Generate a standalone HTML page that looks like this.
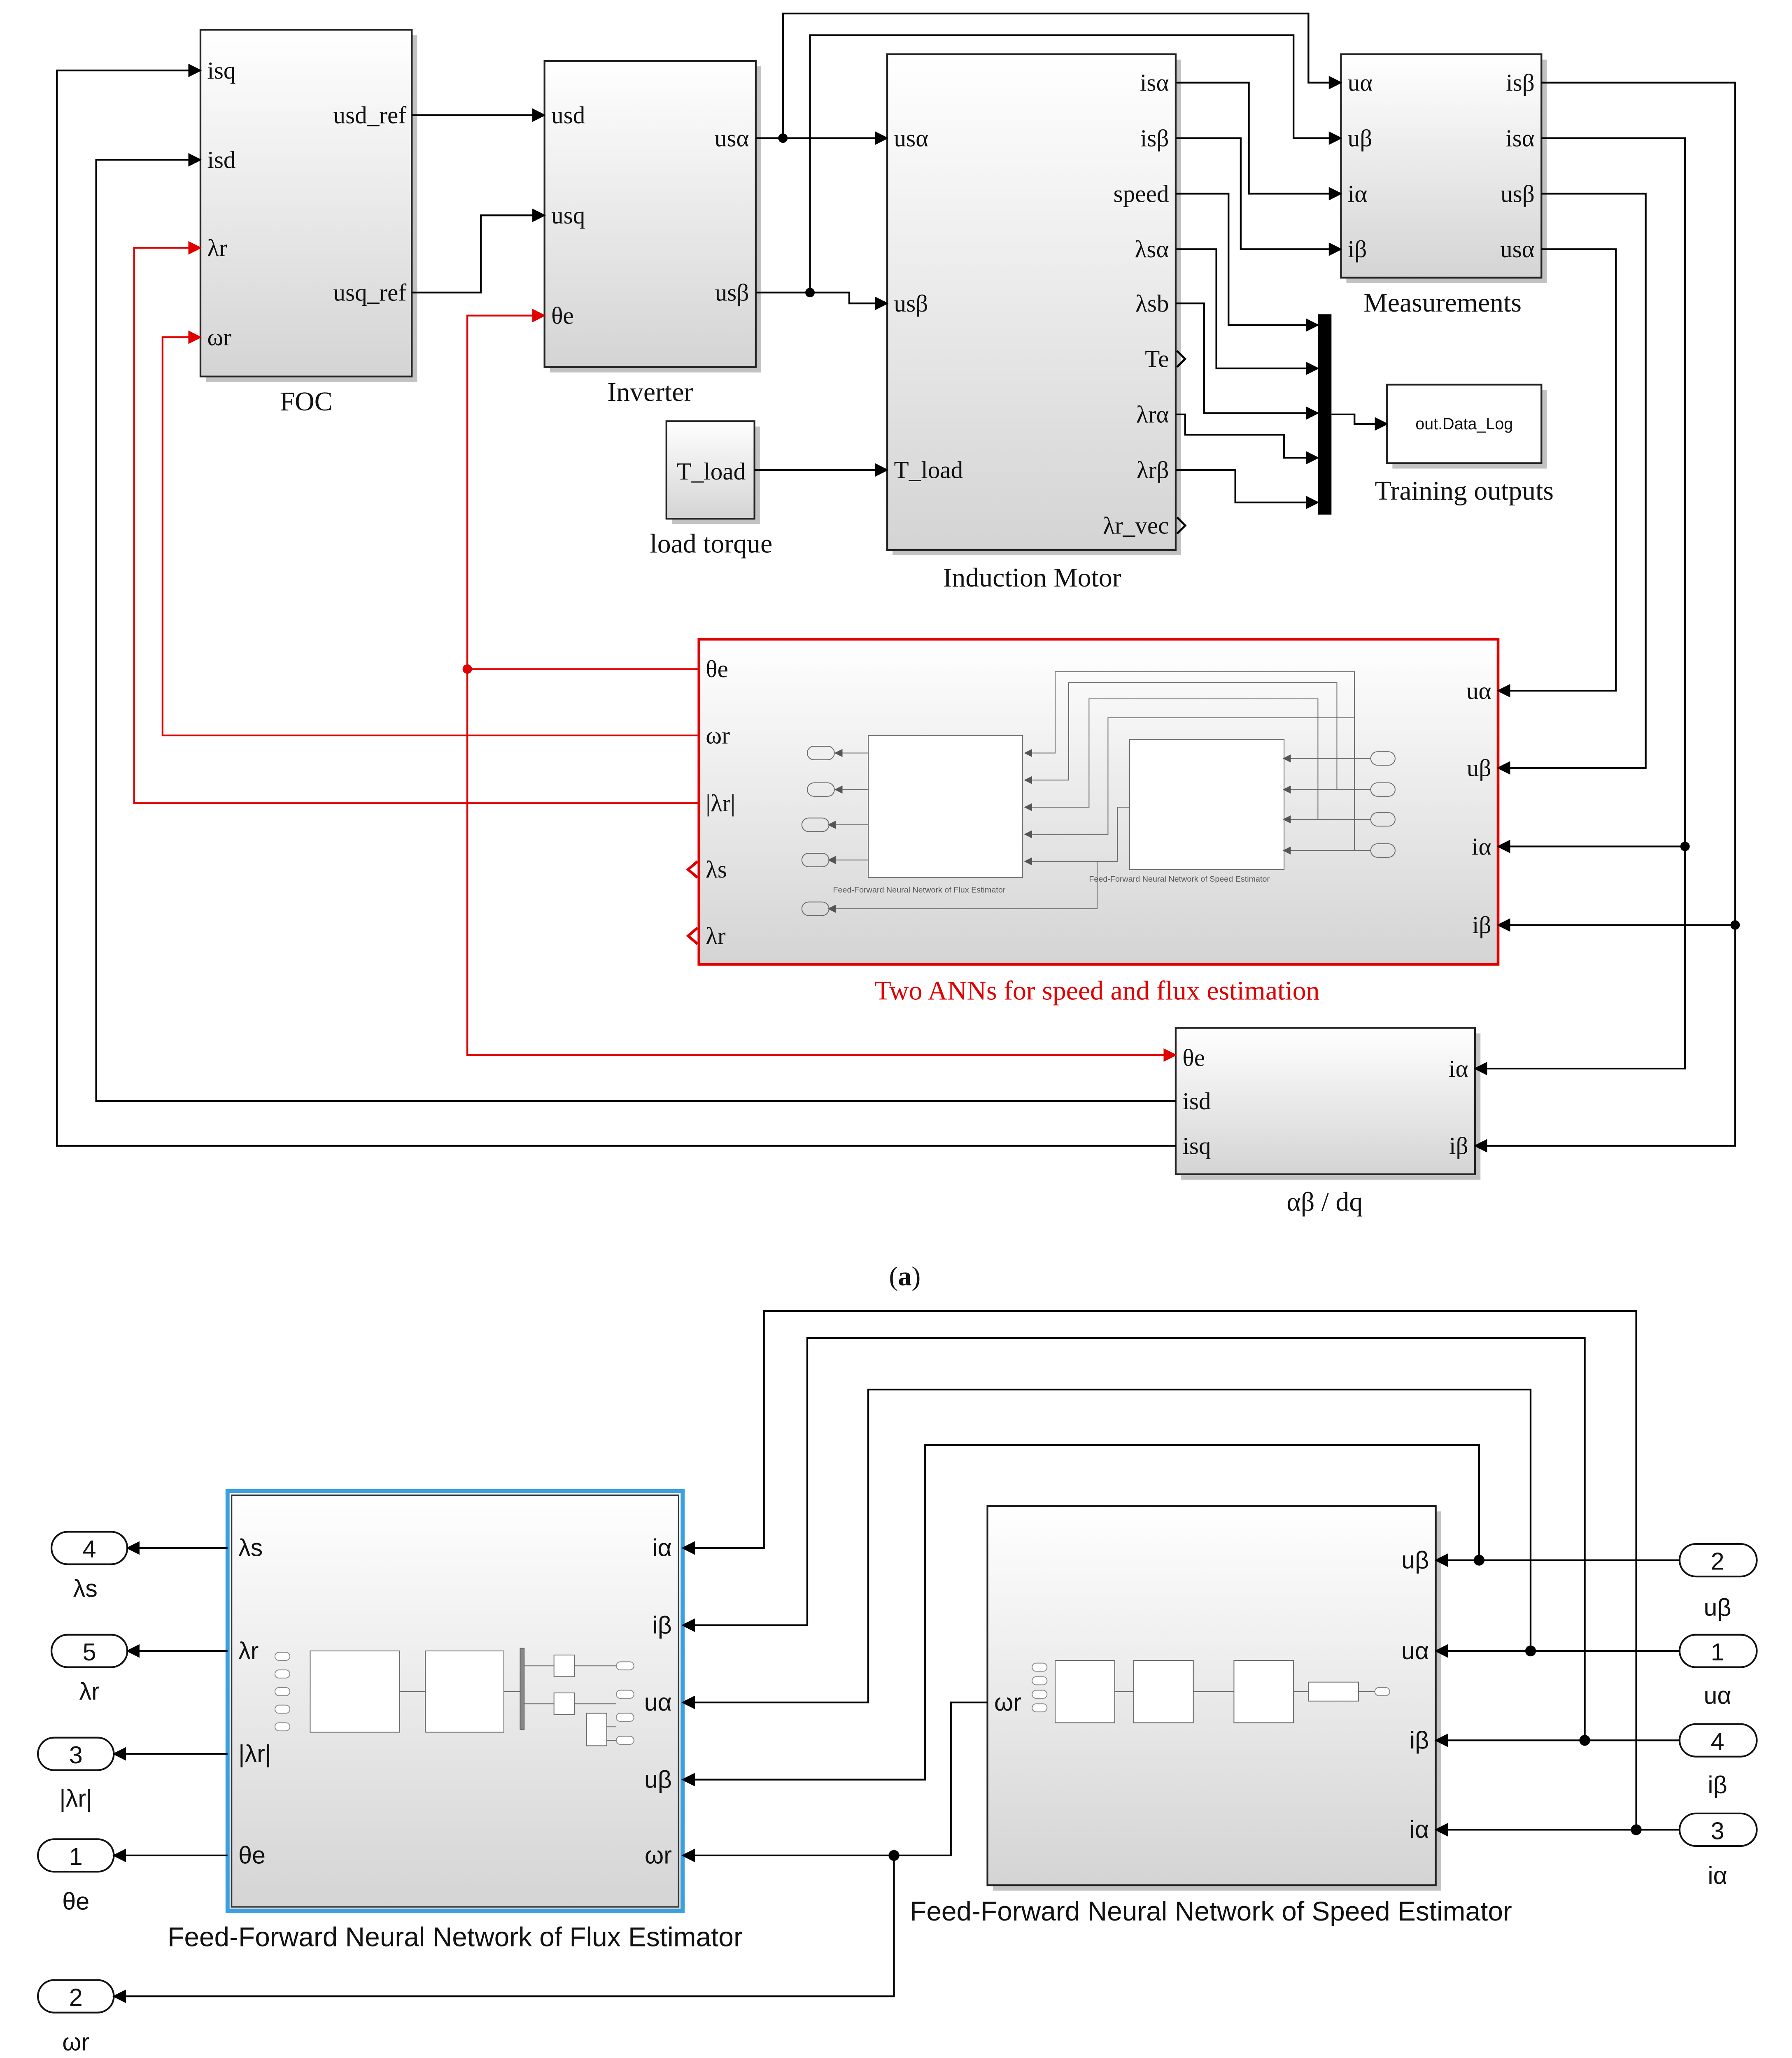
<!DOCTYPE html>
<html><head><meta charset="utf-8"><style>
html,body{margin:0;padding:0;background:#fff;width:4353px;height:5166px;overflow:hidden;}
svg{display:block;position:absolute;left:0;top:0}
.s{font-family:"Liberation Serif",serif;font-size:18px;fill:#111}
.a{font-family:"Liberation Sans",sans-serif;font-size:18px;fill:#111}
.w{fill:none;stroke:#000;stroke-width:1.3}
.r{fill:none;stroke:#e00000;stroke-width:1.3}
.t{fill:none;stroke:#666;stroke-width:0.6}
</style></head><body>
<svg width="4353" height="5166" viewBox="0 0 1323 1570" preserveAspectRatio="none" xmlns="http://www.w3.org/2000/svg">
<defs>
<linearGradient id="g" x1="0" y1="0" x2="0" y2="1"><stop offset="0" stop-color="#ffffff"/><stop offset="1" stop-color="#d4d4d4"/></linearGradient>
<marker id="ar" markerWidth="10" markerHeight="10" refX="9" refY="5" orient="auto" markerUnits="userSpaceOnUse"><path d="M0,0 L10,5 L0,10 z" fill="#000"/></marker>
<marker id="arr" markerWidth="10" markerHeight="10" refX="9" refY="5" orient="auto" markerUnits="userSpaceOnUse"><path d="M0,0 L10,5 L0,10 z" fill="#e00000"/></marker>
<marker id="as" markerWidth="6" markerHeight="6" refX="5" refY="3" orient="auto" markerUnits="userSpaceOnUse"><path d="M0,0 L6,3 L0,6 z" fill="#555"/></marker>
</defs>
<rect width="1323" height="1570" fill="#fff"/>

<g fill="#999" opacity="0.6">
<rect x="152" y="26" width="156" height="256"/><rect x="406" y="49" width="156" height="226"/>
<rect x="659" y="44" width="213" height="366"/><rect x="496" y="315" width="65" height="72"/>
<rect x="994" y="44" width="148" height="165"/><rect x="1028" y="288" width="114" height="58"/>
<rect x="872" y="763" width="221" height="108"/><rect x="733" y="1116" width="331" height="280"/>
</g>
<g stroke="#222" stroke-width="1.3" fill="url(#g)">
<rect x="148" y="22" width="156" height="256"/>
<rect x="402" y="45" width="156" height="226"/>
<rect x="655" y="40" width="213" height="366"/>
<rect x="492" y="311" width="65" height="72"/>
<rect x="990" y="40" width="148" height="165"/>
<rect x="1024" y="284" width="114" height="58" fill="#fff"/>
<rect x="868" y="759" width="221" height="108"/>
</g>
<rect x="516" y="472" width="590" height="240" fill="url(#g)" stroke="#e00000" stroke-width="2"/>
<rect x="973" y="232" width="10" height="148" fill="#000"/>

<g class="s">
<text x="153" y="58">isq</text><text x="153" y="124">isd</text><text x="153" y="189">λr</text><text x="153" y="255">ωr</text>
<text x="300" y="91" text-anchor="end">usd_ref</text><text x="300" y="222" text-anchor="end">usq_ref</text>
<text x="226" y="303" text-anchor="middle" font-size="20">FOC</text>
<text x="407" y="91">usd</text><text x="407" y="165">usq</text><text x="407" y="239">θe</text>
<text x="553" y="108" text-anchor="end">usα</text><text x="553" y="222" text-anchor="end">usβ</text>
<text x="480" y="296" text-anchor="middle" font-size="20">Inverter</text>
<text x="660" y="108">usα</text><text x="660" y="230">usβ</text><text x="660" y="353">T_load</text>
<text x="863" y="67" text-anchor="end">isα</text><text x="863" y="108" text-anchor="end">isβ</text>
<text x="863" y="149" text-anchor="end">speed</text><text x="863" y="190" text-anchor="end">λsα</text>
<text x="863" y="230" text-anchor="end">λsb</text><text x="863" y="271" text-anchor="end">Te</text>
<text x="863" y="312" text-anchor="end">λrα</text><text x="863" y="353" text-anchor="end">λrβ</text>
<text x="863" y="394" text-anchor="end">λr_vec</text>
<text x="762" y="433" text-anchor="middle" font-size="20">Induction Motor</text>
<text x="525" y="354" text-anchor="middle">T_load</text>
<text x="525" y="408" text-anchor="middle" font-size="20">load torque</text>
<text x="995" y="67">uα</text><text x="995" y="108">uβ</text><text x="995" y="149">iα</text><text x="995" y="190">iβ</text>
<text x="1133" y="67" text-anchor="end">isβ</text><text x="1133" y="108" text-anchor="end">isα</text>
<text x="1133" y="149" text-anchor="end">usβ</text><text x="1133" y="190" text-anchor="end">usα</text>
<text x="1065" y="230" text-anchor="middle" font-size="20">Measurements</text>
<text x="1081" y="369" text-anchor="middle" font-size="20">Training outputs</text>
<text x="521" y="500">θe</text><text x="521" y="549">ωr</text><text x="521" y="599">|λr|</text><text x="521" y="648">λs</text><text x="521" y="697">λr</text>
<text x="1101" y="516" text-anchor="end">uα</text><text x="1101" y="573" text-anchor="end">uβ</text><text x="1101" y="631" text-anchor="end">iα</text><text x="1101" y="689" text-anchor="end">iβ</text>
<text x="810" y="738" text-anchor="middle" font-size="20" fill="#e00000">Two ANNs for speed and flux estimation</text>
<text x="873" y="787">θe</text><text x="873" y="819">isd</text><text x="873" y="852">isq</text>
<text x="1084" y="795" text-anchor="end">iα</text><text x="1084" y="852" text-anchor="end">iβ</text>
<text x="978" y="894" text-anchor="middle" font-size="20">αβ / dq</text>
<text x="668" y="949" text-anchor="middle" font-size="20">(<tspan font-weight="bold">a</tspan>)</text>
<text x="668" y="1552" text-anchor="middle" font-size="20">(<tspan font-weight="bold">b</tspan>)</text>
</g>
<text x="1081" y="317" text-anchor="middle" font-family="Liberation Sans,sans-serif" font-size="12" fill="#111">out.Data_Log</text>

<g fill="none" stroke="#000" stroke-width="1.5"><path d="M869,259 L875,265 L869,271"/><path d="M869,382 L875,388 L869,394"/></g>
<g fill="none" stroke="#e00000" stroke-width="2"><path d="M515,636 L508,642 L515,648"/><path d="M515,685 L508,691 L515,697"/></g>

<g class="w">
<path d="M304,85 H402" marker-end="url(#ar)"/>
<path d="M304,216 H355 V159 H402" marker-end="url(#ar)"/>
<path d="M558,102 H655" marker-end="url(#ar)"/>
<path d="M578,102 V10 H966 V61 H990" marker-end="url(#ar)"/>
<path d="M558,216 H627 V224 H655" marker-end="url(#ar)"/>
<path d="M598,216 V26 H955 V102 H990" marker-end="url(#ar)"/>
<path d="M868,61 H922 V143 H990" marker-end="url(#ar)"/>
<path d="M868,102 H916 V184 H990" marker-end="url(#ar)"/>
<path d="M868,143 H907 V240 H973" marker-end="url(#ar)"/>
<path d="M868,184 H898 V272 H973" marker-end="url(#ar)"/>
<path d="M868,224 H889 V305 H973" marker-end="url(#ar)"/>
<path d="M868,306 H875 V321 H948 V338 H973" marker-end="url(#ar)"/>
<path d="M868,347 H912 V371 H973" marker-end="url(#ar)"/>
<path d="M983,306 H1000 V313 H1024" marker-end="url(#ar)"/>
<path d="M557,347 H655" marker-end="url(#ar)"/>
<path d="M1138,61 H1281 V846 H1089" marker-end="url(#ar)"/>
<path d="M1281,683 H1106" marker-end="url(#ar)"/>
<path d="M1138,102 H1244 V789 H1089" marker-end="url(#ar)"/>
<path d="M1244,625 H1106" marker-end="url(#ar)"/>
<path d="M1138,143 H1215 V567 H1106" marker-end="url(#ar)"/>
<path d="M1138,184 H1193 V510 H1106" marker-end="url(#ar)"/>
<path d="M868,813 H71 V118 H148" marker-end="url(#ar)"/>
<path d="M868,846 H42 V52 H148" marker-end="url(#ar)"/>
</g>
<g fill="#000"><circle cx="578" cy="102" r="3.5"/><circle cx="598" cy="216" r="3.5"/><circle cx="1281" cy="683" r="3.5"/><circle cx="1244" cy="625" r="3.5"/></g>
<g class="r">
<path d="M516,494 H345 V233 H402" marker-end="url(#arr)"/>
<path d="M345,494 V779 H868" marker-end="url(#arr)"/>
<path d="M516,543 H120 V249 H148" marker-end="url(#arr)"/>
<path d="M516,593 H99 V183 H148" marker-end="url(#arr)"/>
</g>
<circle cx="345" cy="494" r="3.5" fill="#e00000"/>

<g class="t">
<rect x="641" y="543" width="114" height="105" fill="#fff"/>
<rect x="834" y="546" width="114" height="96" fill="#fff"/>
<path d="M1000,560 V496 H779 V556 H757" marker-end="url(#as)"/>
<path d="M987,583 V504 H789 V576 H757" marker-end="url(#as)"/>
<path d="M973,605 V516 H804 V596 H757" marker-end="url(#as)"/>
<path d="M1000,628 V530 H818 V616 H757" marker-end="url(#as)"/>
<path d="M834,596 H825 V636 H757" marker-end="url(#as)"/>
<path d="M810,636 V671 H612" marker-end="url(#as)"/>
<path d="M1012,560 H948" marker-end="url(#as)"/><path d="M1012,583 H948" marker-end="url(#as)"/>
<path d="M1012,605 H948" marker-end="url(#as)"/><path d="M1012,628 H948" marker-end="url(#as)"/>
<path d="M641,556 H617" marker-end="url(#as)"/><path d="M641,583 H617" marker-end="url(#as)"/>
<path d="M641,609 H612" marker-end="url(#as)"/><path d="M641,635 H612" marker-end="url(#as)"/>
<rect x="596" y="551" width="20" height="10" rx="5"/><rect x="596" y="578" width="20" height="10" rx="5"/>
<rect x="592" y="604" width="20" height="10" rx="5"/><rect x="592" y="630" width="20" height="10" rx="5"/>
<rect x="592" y="666" width="20" height="10" rx="5"/>
<rect x="1012" y="555" width="18" height="10" rx="5"/><rect x="1012" y="578" width="18" height="10" rx="5"/>
<rect x="1012" y="600" width="18" height="10" rx="5"/><rect x="1012" y="623" width="18" height="10" rx="5"/>
</g>
<g font-family="Liberation Sans,sans-serif" font-size="6" fill="#555">
<text x="615" y="659">Feed-Forward Neural Network of Flux Estimator</text>
<text x="804" y="651">Feed-Forward Neural Network of Speed Estimator</text>
</g>

<rect x="168" y="1101" width="336" height="310" fill="url(#g)" stroke="#3aa0e0" stroke-width="3"/>
<rect x="171" y="1104" width="330" height="304" fill="none" stroke="#333" stroke-width="1"/>
<rect x="729" y="1112" width="331" height="280" fill="url(#g)" stroke="#222" stroke-width="1.3"/>
<g class="t" stroke-width="0.8">
<rect x="229" y="1219" width="66" height="60" fill="#fff"/><rect x="314" y="1219" width="58" height="60" fill="#fff"/>
<path d="M295,1249 H314"/><path d="M372,1249 H384"/><rect x="384" y="1217" width="3" height="60" fill="#888"/>
<rect x="409" y="1222" width="15" height="16" fill="#fff"/><rect x="409" y="1250" width="15" height="16" fill="#fff"/><rect x="433" y="1265" width="15" height="24" fill="#fff"/>
<path d="M387,1230 H409 M387,1258 H409 M424,1230 H455 M424,1258 H455 M448,1275 H455 M448,1285 H455"/>
<rect x="779" y="1226" width="44" height="46" fill="#fff"/><rect x="837" y="1226" width="44" height="46" fill="#fff"/>
<rect x="911" y="1226" width="44" height="46" fill="#fff"/><rect x="966" y="1242" width="37" height="14" fill="#fff"/>
<path d="M823,1249 H837 M881,1249 H911 M955,1249 H966 M1003,1249 H1015"/>
</g>
<g fill="#fff" stroke="#888" stroke-width="0.6">
<rect x="203" y="1220" width="11" height="6" rx="3"/><rect x="203" y="1233" width="11" height="6" rx="3"/><rect x="203" y="1246" width="11" height="6" rx="3"/><rect x="203" y="1259" width="11" height="6" rx="3"/><rect x="203" y="1272" width="11" height="6" rx="3"/>
<rect x="455" y="1227" width="13" height="6" rx="3"/><rect x="455" y="1248" width="13" height="6" rx="3"/><rect x="455" y="1265" width="13" height="6" rx="3"/><rect x="455" y="1282" width="13" height="6" rx="3"/>
<rect x="762" y="1228" width="11" height="6" rx="3"/><rect x="762" y="1238" width="11" height="6" rx="3"/><rect x="762" y="1248" width="11" height="6" rx="3"/><rect x="762" y="1258" width="11" height="6" rx="3"/>
<rect x="1015" y="1246" width="11" height="6" rx="3"/>
</g>
<g fill="#fff" stroke="#111" stroke-width="1.3">
<rect x="38" y="1131" width="56" height="24" rx="12"/><rect x="38" y="1207" width="56" height="24" rx="12"/>
<rect x="28" y="1283" width="56" height="24" rx="12"/><rect x="28" y="1358" width="56" height="24" rx="12"/>
<rect x="28" y="1462" width="56" height="24" rx="12"/>
<rect x="1240" y="1140" width="57" height="24" rx="12"/><rect x="1240" y="1207" width="57" height="24" rx="12"/>
<rect x="1240" y="1273" width="57" height="24" rx="12"/><rect x="1240" y="1339" width="57" height="24" rx="12"/>
</g>
<g class="a">
<text x="66" y="1150" text-anchor="middle">4</text><text x="66" y="1226" text-anchor="middle">5</text>
<text x="56" y="1302" text-anchor="middle">3</text><text x="56" y="1377" text-anchor="middle">1</text><text x="56" y="1481" text-anchor="middle">2</text>
<text x="1268" y="1159" text-anchor="middle">2</text><text x="1268" y="1226" text-anchor="middle">1</text>
<text x="1268" y="1292" text-anchor="middle">4</text><text x="1268" y="1358" text-anchor="middle">3</text>
<text x="63" y="1179" text-anchor="middle">λs</text><text x="66" y="1255" text-anchor="middle">λr</text>
<text x="56" y="1334" text-anchor="middle">|λr|</text><text x="56" y="1410" text-anchor="middle">θe</text><text x="56" y="1514" text-anchor="middle">ωr</text>
<text x="1268" y="1193" text-anchor="middle">uβ</text><text x="1268" y="1258" text-anchor="middle">uα</text>
<text x="1268" y="1324" text-anchor="middle">iβ</text><text x="1268" y="1391" text-anchor="middle">iα</text>
<text x="176" y="1149">λs</text><text x="176" y="1225">λr</text><text x="176" y="1301">|λr|</text><text x="176" y="1376">θe</text>
<text x="496" y="1149" text-anchor="end">iα</text><text x="496" y="1206" text-anchor="end">iβ</text><text x="496" y="1263" text-anchor="end">uα</text>
<text x="496" y="1320" text-anchor="end">uβ</text><text x="496" y="1376" text-anchor="end">ωr</text>
<text x="734" y="1263">ωr</text>
<text x="1055" y="1158" text-anchor="end">uβ</text><text x="1055" y="1225" text-anchor="end">uα</text>
<text x="1055" y="1291" text-anchor="end">iβ</text><text x="1055" y="1357" text-anchor="end">iα</text>
<text x="336" y="1437" text-anchor="middle" font-size="20">Feed-Forward Neural Network of Flux Estimator</text>
<text x="894" y="1418" text-anchor="middle" font-size="20">Feed-Forward Neural Network of Speed Estimator</text>
</g>
<g class="w">
<path d="M168,1143 H94" marker-end="url(#ar)"/><path d="M168,1219 H94" marker-end="url(#ar)"/>
<path d="M168,1295 H84" marker-end="url(#ar)"/><path d="M168,1370 H84" marker-end="url(#ar)"/>
<path d="M1240,1152 H1060" marker-end="url(#ar)"/><path d="M1240,1219 H1060" marker-end="url(#ar)"/>
<path d="M1240,1285 H1060" marker-end="url(#ar)"/><path d="M1240,1351 H1060" marker-end="url(#ar)"/>
<path d="M1208,1351 V968 H564 V1143 H504" marker-end="url(#ar)"/>
<path d="M1170,1285 V988 H596 V1200 H504" marker-end="url(#ar)"/>
<path d="M1130,1219 V1026 H641 V1257 H504" marker-end="url(#ar)"/>
<path d="M1092,1152 V1067 H683 V1314 H504" marker-end="url(#ar)"/>
<path d="M729,1257 H702 V1370 H504" marker-end="url(#ar)"/>
<path d="M660,1370 V1474 H84" marker-end="url(#ar)"/>
</g>
<g fill="#000"><circle cx="1092" cy="1152" r="4"/><circle cx="1130" cy="1219" r="4"/><circle cx="1170" cy="1285" r="4"/><circle cx="1208" cy="1351" r="4"/><circle cx="660" cy="1370" r="4"/></g>
</svg>
</body></html>
